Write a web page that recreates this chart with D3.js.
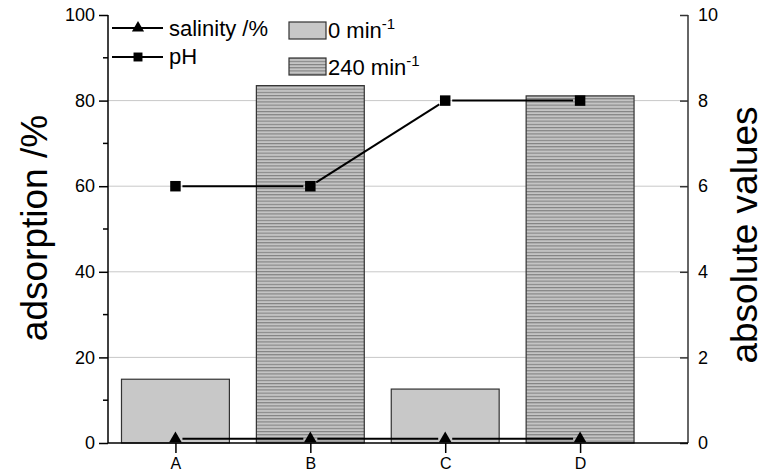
<!DOCTYPE html>
<html>
<head>
<meta charset="utf-8">
<script src="https://cdn.jsdelivr.net/npm/d3@7"></script>
<style>
    body { margin: 0; background: #fff; }
    #chart { width: 773px; height: 474px; }
    text { font-family: "Liberation Sans", Arial, sans-serif; fill: #000; }
</style>
</head>
<body>
<div id="chart"></div>
<script>
//Datos
const categories = ['A', 'B', 'C', 'D'];
const barTime = ['0', '240', '0', '240'];
const adsorption = [14.9, 83.5, 12.6, 81.1];
const salinity = [0.1, 0.1, 0.1, 0.1];
const pH = [6, 6, 8, 8];
const leftTicks = [0, 20, 40, 60, 80, 100];
const leftMinorTicks = [10, 30, 50, 70, 90];
const rightTicks = [0, 2, 4, 6, 8, 10];

let margin = {top: 15, right: 85, bottom: 31, left: 108},
    width = 773 - margin.left - margin.right,
    height = 474 - margin.top - margin.bottom;

let svg = d3.select('#chart')
    .append('svg')
        .attr('width', 773)
        .attr('height', 474)
    .append('g')
        .attr('transform', 'translate(' + margin.left + ',' + margin.top + ')');

//Patrón rayado para 240 min
let defs = svg.append('defs');
let pattern = defs.append('pattern')
    .attr('id', 'hatch')
    .attr('patternUnits', 'userSpaceOnUse')
    .attr('width', 6)
    .attr('height', 3.2);
pattern.append('rect').attr('width', 6).attr('height', 3.2).attr('fill', '#c4c4c4');
pattern.append('rect').attr('y', 0).attr('width', 6).attr('height', 1.1).attr('fill', '#808080');

//Escalas
let x = d3.scaleLinear().domain([0.5, 4.8]).range([0, width]);
let y = d3.scaleLinear().domain([0, 100]).range([height, 0]);
let y2 = d3.scaleLinear().domain([0, 10]).range([height, 0]);
let barW = x(1.8) - x(1);

//Rejilla
svg.append('g')
    .selectAll('line')
    .data(leftTicks.filter(function(d) { return d > 0 && d < 100; }))
    .enter()
    .append('line')
    .attr('x1', 0)
    .attr('x2', width)
    .attr('y1', function(d) { return y(d); })
    .attr('y2', function(d) { return y(d); })
    .attr('stroke', '#c8c8c8')
    .attr('stroke-width', 1);

//Barras
svg.selectAll('bars')
    .data(categories)
    .enter()
    .append('rect')
    .attr('x', function(d, i) { return x(i + 1) - barW / 2; })
    .attr('y', function(d, i) { return y(adsorption[i]); })
    .attr('width', barW)
    .attr('height', function(d, i) { return y(0) - y(adsorption[i]); })
    .attr('fill', function(d, i) { return barTime[i] == '0' ? '#c8c8c8' : 'url(#hatch)'; })
    .attr('stroke', '#333')
    .attr('stroke-width', 1.2);

//Ejes
let leftAxis = function(g) {
    g.call(d3.axisLeft(y).tickValues(leftTicks).tickSize(9).tickPadding(4));
    g.select('.domain').attr('stroke-width', 1.5).attr('d', 'M0,' + height + 'V0');
    g.selectAll('.tick line').attr('stroke-width', 1.5);
    g.selectAll('.tick text').style('font-size', '18px').attr('font-family', null);
};
svg.append('g').call(leftAxis);

svg.append('g')
    .selectAll('line')
    .data(leftMinorTicks)
    .enter()
    .append('line')
    .attr('x1', -5)
    .attr('x2', 0)
    .attr('y1', function(d) { return y(d); })
    .attr('y2', function(d) { return y(d); })
    .attr('stroke', '#000')
    .attr('stroke-width', 1.5);

let rightAxis = function(g) {
    g.call(d3.axisRight(y2).tickValues(rightTicks).tickSize(-8).tickPadding(10));
    g.select('.domain').attr('stroke-width', 1.5).attr('stroke', '#333').attr('d', 'M0,' + height + 'V0');
    g.selectAll('.tick line').attr('stroke-width', 1.5).attr('stroke', '#333');
    g.selectAll('.tick text').style('font-size', '18px').attr('font-family', null);
};
svg.append('g')
    .attr('transform', 'translate(' + width + ',0)')
    .call(rightAxis);

let bottomAxis = function(g) {
    g.call(d3.axisBottom(x).tickValues([1, 2, 3, 4]).tickSize(10).tickPadding(5)
        .tickFormat(function(d) { return categories[d - 1]; }));
    g.select('.domain').attr('stroke-width', 1.5).attr('d', 'M0,0H' + width);
    g.selectAll('.tick line').attr('stroke-width', 1.5);
    g.selectAll('.tick text').style('font-size', '16px').attr('font-family', null);
};
svg.append('g')
    .attr('transform', 'translate(0,' + height + ')')
    .call(bottomAxis);

//Títulos de ejes
svg.append('text')
    .attr('transform', 'translate(' + (47 - margin.left) + ',' + (228 - margin.top) + ') rotate(-90)')
    .attr('text-anchor', 'middle')
    .style('font-size', '37px')
    .text('adsorption /%');

svg.append('text')
    .attr('transform', 'translate(' + (757 - margin.left) + ',' + (235 - margin.top) + ') rotate(-90)')
    .attr('text-anchor', 'middle')
    .style('font-size', '37px')
    .text('absolute values');

//Líneas con hueco alrededor de los marcadores
function gapSegments(values, scale, gap) {
    let segs = [];
    for (let i = 0; i < values.length - 1; i++) {
        let x1 = x(i + 1), y1 = scale(values[i]),
            x2 = x(i + 2), y2v = scale(values[i + 1]);
        let len = Math.hypot(x2 - x1, y2v - y1),
            ux = (x2 - x1) / len, uy = (y2v - y1) / len;
        segs.push([x1 + ux * gap, y1 + uy * gap, x2 - ux * gap, y2v - uy * gap]);
    }
    return segs;
}

function drawSeries(values, symbol) {
    let g = svg.append('g');
    g.selectAll('line')
        .data(gapSegments(values, y2, 7))
        .enter()
        .append('line')
        .attr('x1', function(d) { return d[0]; })
        .attr('y1', function(d) { return d[1]; })
        .attr('x2', function(d) { return d[2]; })
        .attr('y2', function(d) { return d[3]; })
        .attr('stroke', '#000')
        .attr('stroke-width', 2);
    g.selectAll('path')
        .data(values)
        .enter()
        .append('path')
        .attr('d', d3.symbol().type(symbol).size(symbol == d3.symbolSquare ? 110 : 68))
        .attr('transform', function(d, i) { return 'translate(' + x(i + 1) + ',' + y2(d) + ')'; })
        .attr('fill', '#000');
}

drawSeries(salinity, d3.symbolTriangle);
drawSeries(pH, d3.symbolSquare);

//Leyenda
let legend = svg.append('g').attr('transform', 'translate(' + (-margin.left) + ',' + (-margin.top) + ')');
let lineItems = [
    {label: 'salinity /%', symbol: d3.symbolTriangle, y: 28, base: 36},
    {label: 'pH', symbol: d3.symbolSquare, y: 57, base: 64}
];
lineItems.forEach(function(item) {
    legend.append('line')
        .attr('x1', 112).attr('x2', 163)
        .attr('y1', item.y).attr('y2', item.y)
        .attr('stroke', '#000').attr('stroke-width', 2);
    legend.append('path')
        .attr('d', d3.symbol().type(item.symbol).size(item.symbol == d3.symbolSquare ? 80 : 64))
        .attr('transform', 'translate(138,' + item.y + ')')
        .attr('fill', '#000');
    legend.append('text')
        .attr('x', 169).attr('y', item.base)
        .style('font-size', '22px')
        .text(item.label);
});

let barItems = [
    {label: '0', fill: '#c8c8c8', y: 22, base: 38},
    {label: '240', fill: 'url(#hatch)', y: 58, base: 75}
];
barItems.forEach(function(item) {
    legend.append('rect')
        .attr('x', 289).attr('y', item.y)
        .attr('width', 37).attr('height', 17)
        .attr('fill', item.fill)
        .attr('stroke', '#333').attr('stroke-width', 1.2);
    let t = legend.append('text')
        .attr('x', 328).attr('y', item.base)
        .style('font-size', '22px');
    t.append('tspan').text(item.label + ' min');
    t.append('tspan').attr('dy', -9).style('font-size', '15px').text('-1');
});
</script>
</body>
</html>
